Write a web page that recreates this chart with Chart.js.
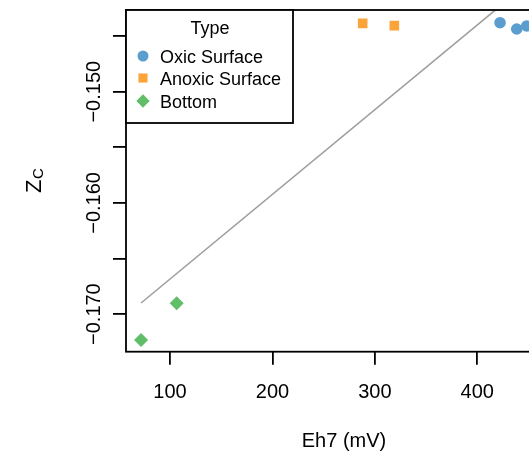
<!DOCTYPE html>
<html>
<head>
<meta charset="utf-8">
<script src="https://cdn.jsdelivr.net/npm/chart.js@4.4.0/dist/chart.umd.min.js"></script>
<style>
  html, body { margin: 0; padding: 0; background: #fff; overflow: hidden; width: 529px; height: 454px; }
  canvas { display: block; }
</style>
</head>
<body>
<canvas id="zcChart" width="600" height="454"></canvas>
<script>
// values
const oxicX = [422.2, 438.5, 448.2];
const oxicY = [-0.14379, -0.14436, -0.14409];
const anoxicX = [288.1, 319.0];
const anoxicY = [-0.14385, -0.14406];
const bottomX = [71.7, 106.5];
const bottomY = [-0.17233, -0.16903];
// fitted line end points
const fitX = [71.7, 466.9];
const fitY = [-0.1690, -0.1389];

const xTicks = [100, 200, 300, 400];
const yTicks = [-0.170, -0.165, -0.160, -0.155, -0.150, -0.145];
const yTickLabels = ['\u22120.170', '', '\u22120.160', '', '\u22120.150', ''];
const groupNames = ['Oxic Surface', 'Anoxic Surface', 'Bottom'];

const FONT = '"Liberation Sans", Arial, Helvetica, sans-serif';
const BLUE = '#5B9DCF';
const ORANGE = '#FAA43A';
const GREEN = '#60BD68';

const toPoints = (xs, ys) => xs.map((x, i) => ({ x: x, y: ys[i] }));

// R style box, axis text and legend
const rStyle = {
  id: 'rStyle',
  afterDraw(chart) {
    const ctx = chart.ctx;
    const a = chart.chartArea;
    const xs = chart.scales.x;
    const ys = chart.scales.y;
    ctx.save();
    ctx.strokeStyle = '#000';
    ctx.lineWidth = 1.8;
    ctx.strokeRect(a.left, a.top, a.right - a.left, a.bottom - a.top);

    ctx.fillStyle = '#000';
    ctx.font = '20px ' + FONT;
    ctx.textAlign = 'center';
    ctx.textBaseline = 'alphabetic';
    xTicks.forEach(v => {
      ctx.fillText(String(v), xs.getPixelForValue(v), 398);
    });
    yTicks.forEach((v, i) => {
      if (!yTickLabels[i]) return;
      ctx.save();
      ctx.translate(100, ys.getPixelForValue(v));
      ctx.rotate(-Math.PI / 2);
      ctx.fillText(yTickLabels[i], 0, 0);
      ctx.restore();
    });

    // axis titles
    ctx.fillText('Eh7 (mV)', (a.left + a.right) / 2, 447);
    ctx.save();
    ctx.translate(41, (a.top + a.bottom) / 2);
    ctx.rotate(-Math.PI / 2);
    ctx.textAlign = 'left';
    ctx.font = '22px ' + FONT;
    const zw = ctx.measureText('Z').width;
    ctx.font = '15px ' + FONT;
    const cw = ctx.measureText('C').width;
    const start = -(zw + cw) / 2;
    ctx.font = '22px ' + FONT;
    ctx.fillText('Z', start, 0);
    ctx.font = '15px ' + FONT;
    ctx.fillText('C', start + zw + 0.5, 2);
    ctx.restore();

    // legend
    const lx = a.left, ly = a.top, lw = 167, lh = 113;
    ctx.fillStyle = '#fff';
    ctx.fillRect(lx, ly, lw, lh);
    ctx.strokeStyle = '#000';
    ctx.lineWidth = 1.8;
    ctx.strokeRect(lx, ly, lw, lh);
    ctx.fillStyle = '#000';
    ctx.font = '18px ' + FONT;
    ctx.textAlign = 'center';
    ctx.fillText('Type', lx + 84, ly + 23.5);
    ctx.textAlign = 'left';
    const rowsY = [56, 78, 101];
    chart.data.datasets.slice(0, 3).forEach((ds, i) => {
      ctx.fillStyle = ds.backgroundColor;
      ctx.strokeStyle = ds.backgroundColor;
      Chart.helpers.drawPoint(ctx, {
        pointStyle: ds.pointStyle,
        radius: ds.pointRadius * 0.95,
        rotation: 0,
        borderWidth: 0
      }, lx + 17, rowsY[i]);
      ctx.fillStyle = '#000';
      ctx.fillText(groupNames[i], lx + 34, rowsY[i] + 6.5);
    });
    ctx.restore();
  }
};

const ctx = document.getElementById('zcChart');
new Chart(ctx, {
  type: 'scatter',
  data: {
    datasets: [
      {
        label: groupNames[0],
        data: toPoints(oxicX, oxicY),
        pointStyle: 'circle',
        pointRadius: 5.8,
        backgroundColor: BLUE,
        borderColor: BLUE,
        borderWidth: 0
      },
      {
        label: groupNames[1],
        data: toPoints(anoxicX, anoxicY),
        pointStyle: 'rect',
        pointRadius: 6.8,
        backgroundColor: ORANGE,
        borderColor: ORANGE,
        borderWidth: 0
      },
      {
        label: groupNames[2],
        data: toPoints(bottomX, bottomY),
        pointStyle: 'rectRot',
        pointRadius: 7,
        backgroundColor: GREEN,
        borderColor: GREEN,
        borderWidth: 0
      },
      {
        type: 'line',
        label: 'fit',
        data: toPoints(fitX, fitY),
        borderColor: '#9E9E9E',
        borderWidth: 1.6,
        pointRadius: 0,
        fill: false,
        order: 5
      }
    ]
  },
  options: {
    responsive: false,
    animation: false,
    devicePixelRatio: 1,
    layout: { padding: { top: 10, right: 38, left: 0, bottom: 0 } },
    plugins: {
      legend: { display: false },
      tooltip: { enabled: false }
    },
    scales: {
      x: {
        type: 'linear',
        min: 57.0,
        max: 482.7,
        afterBuildTicks: s => { s.ticks = xTicks.map(v => ({ value: v })); },
        afterFit: s => { s.height = 102.3; },
        ticks: { display: false },
        border: { display: false },
        grid: { drawOnChartArea: false, drawTicks: true, tickLength: 13, tickColor: '#000', lineWidth: 1.8 }
      },
      y: {
        type: 'linear',
        min: -0.17338,
        max: -0.14265,
        afterBuildTicks: s => { s.ticks = yTicks.map(v => ({ value: v })); },
        afterFit: s => { s.width = 126; },
        ticks: { display: false },
        border: { display: false },
        grid: { drawOnChartArea: false, drawTicks: true, tickLength: 13, tickColor: '#000', lineWidth: 1.8 }
      }
    }
  },
  plugins: [rStyle]
});
</script>
</body>
</html>
